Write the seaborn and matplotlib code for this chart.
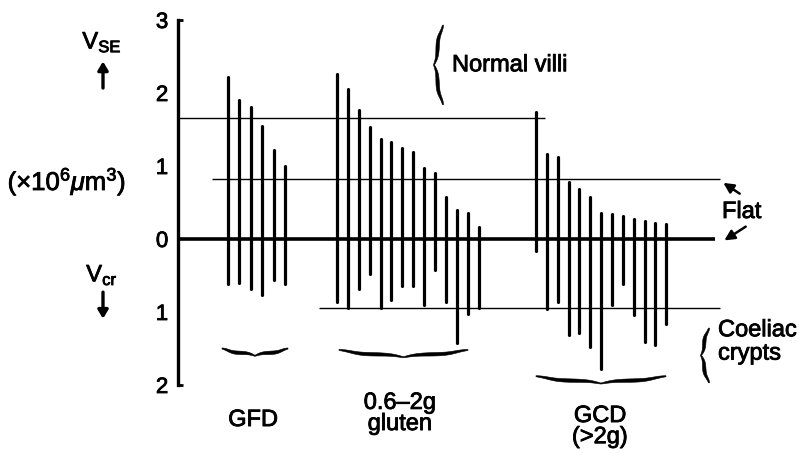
import numpy as np
import pandas as pd
import matplotlib
matplotlib.use('Agg')
import matplotlib.pyplot as plt
import matplotlib.patheffects as pe
import seaborn as sns

# surface epithelium volume (up) and crypt volume (down), x10^6 um^3, per biopsy
gfd_se = [2.22, 1.90, 1.81, 1.55, 1.22, 1.00]
gfd_cr = [0.62, 0.60, 0.68, 0.77, 0.56, 0.62]

gluten_se = [2.26, 2.06, 1.77, 1.54, 1.37, 1.33, 1.24, 1.19, 0.97, 0.91, 0.58, 0.40, 0.36, 0.16]
gluten_cr = [0.86, 0.94, 0.68, 0.48, 0.94, 0.83, 0.65, 0.65, 0.91, 0.43, 0.86, 1.42, 1.03, 0.94]

gcd_se = [1.74, 1.17, 1.13, 0.78, 0.69, 0.57, 0.36, 0.34, 0.32, 0.27, 0.25, 0.22, 0.21]
gcd_cr = [0.16, 0.96, 0.86, 1.32, 1.29, 1.48, 1.78, 0.90, 0.62, 1.04, 1.41, 1.45, 1.16]

group_labels = ['GFD', '0.6–2g\ngluten', 'GCD\n(>2g)']
tick_vals = [3, 2, 1, 0, -1, -2]
tick_labels = ['3', '2', '1', '0', '1', '2']

# reference levels
normal_mean = 1.66
flat_mean = 0.82
crypt_mean = -0.95

# layout: x in pixel-like units
x0_axis = 178
group_start = [227.7, 336.7, 536.0]
group_step = [11.46, 10.95, 10.86]

rows = []
pid = 0
for g, (se, cr) in enumerate([(gfd_se, gfd_cr), (gluten_se, gluten_cr), (gcd_se, gcd_cr)]):
    for i in range(len(se)):
        x = group_start[g] + i * group_step[g]
        rows.append({'x': x, 'v': se[i], 'pid': pid})
        rows.append({'x': x, 'v': -cr[i], 'pid': pid})
        pid += 1
df = pd.DataFrame(rows)

sns.set_style('white')
plt.rcParams['font.family'] = ['Liberation Sans', 'DejaVu Sans']
plt.rcParams['text.color'] = 'black'
plt.rcParams['ytick.color'] = 'black'
plt.rcParams['axes.edgecolor'] = 'black'
plt.rcParams['mathtext.fontset'] = 'custom'
plt.rcParams['mathtext.rm'] = 'Liberation Sans'
plt.rcParams['mathtext.it'] = 'Liberation Sans:italic'

fig = plt.figure(figsize=(8, 4.53), dpi=100)
ax = fig.add_axes([0, 0, 1, 1])
y0_px, scale = 239, 73.0
ax.set_xlim(0, 800)
ax.set_ylim((y0_px - 453) / scale, y0_px / scale)

sns.lineplot(data=df, x='x', y='v', units='pid', estimator=None, sort=False,
             color='black', lw=2.3, ax=ax, legend=False)
ax.set_xlabel('')
ax.set_ylabel('')

# horizontal reference lines
ax.hlines(0, x0_axis, 715, color='black', lw=2.6)
ax.hlines(normal_mean, x0_axis, 545, color='black', lw=1.0)
ax.hlines(flat_mean, 212, 720, color='black', lw=1.0)
ax.hlines(crypt_mean, 319, 720, color='black', lw=1.0)

# axis
for s in ['top', 'right', 'bottom']:
    ax.spines[s].set_visible(False)
ax.spines['left'].set_position(('data', x0_axis))
ax.spines['left'].set_bounds(-2, 3)
ax.spines['left'].set_linewidth(2.4)
ax.set_xticks([])
ax.set_yticks(tick_vals)
thick = [pe.withStroke(linewidth=0.6, foreground='black')]
ax.set_yticklabels(tick_labels, fontsize=16, path_effects=thick)
ax.tick_params(axis='y', direction='out', length=4, width=2, pad=3)
ticks = ax.yaxis.get_major_ticks()
ticks[0].tick1line.set_visible(False)
ticks[-1].tick1line.set_visible(False)
ax.hlines([3, -2], x0_axis - 1, x0_axis + 5, color='black', lw=2.0)


def brace(ax, a, b, pos, h, vertical=False, tmax=3.4, tmin=1.0):
    # tapered curly brace; thickness given in pixels
    n = 100
    t = np.linspace(0, 1, n)
    beta = 11.0
    half = 1 / (1 + np.exp(-beta * (t - 0.18))) + 1 / (1 + np.exp(-beta * (t - 0.97)))
    prof = np.concatenate([half, half[-2::-1]])
    prof = (prof - prof.min()) / (prof.max() - prof.min())
    u = np.concatenate([t, t[-2::-1]])
    th = tmin + (tmax - tmin) * np.sin(np.pi * u) ** 0.8
    s = np.linspace(a, b, len(prof))
    d = pos + prof * h
    if vertical:
        w = th / 2
        xs = np.concatenate([d - w, (d + w)[::-1]])
        ys = np.concatenate([s, s[::-1]])
    else:
        w = th / 2 / scale
        xs = np.concatenate([s, s[::-1]])
        ys = np.concatenate([d - w, (d + w)[::-1]])
    ax.fill(xs, ys, color='black', lw=0.4, ec='black')


# group braces under the bars
brace(ax, 222, 288, -1.50, -0.10)
brace(ax, 339, 468, -1.52, -0.10)
brace(ax, 536, 666, -1.88, -0.10)
# side braces
brace(ax, 2.93, 1.84, 443, -9, vertical=True)
brace(ax, -1.22, -1.97, 709, -8, vertical=True)

fs = 17
ax.text(452, 2.38, 'Normal villi', fontsize=fs, va='center', ha='left', path_effects=thick)
ax.text(722, 0.37, 'Flat', fontsize=fs, va='center', ha='left', path_effects=thick)
ax.text(718, -1.25, 'Coeliac', fontsize=fs, va='center', ha='left', path_effects=thick)
ax.text(718, -1.57, 'crypts', fontsize=fs, va='center', ha='left', path_effects=thick)

arrow = dict(arrowstyle='-|>,head_length=0.6,head_width=0.3', color='black', lw=1.8)
ax.annotate('', xy=(721, 0.79), xytext=(742, 0.60), arrowprops=arrow)
ax.annotate('', xy=(722, -0.04), xytext=(748, 0.19), arrowprops=arrow)

label_x = [253, 400, 600]
label_y = [-2.48, -2.39, -2.57]
for lx, ly, lab in zip(label_x, label_y, group_labels):
    ax.text(lx, ly, lab, fontsize=fs, ha='center', va='center', linespacing=0.95,
            path_effects=thick)

ax.text(102, 2.70, r'V$_{\mathrm{SE}}$', fontsize=fs, ha='center', va='center', path_effects=thick)
ax.text(102, -0.49, r'V$_{\mathrm{cr}}$', fontsize=fs, ha='center', va='center', path_effects=thick)
ax.text(67, 0.79, r'($\times$10$^{6}$$\mu$m$^{3}$)', fontsize=18.5, ha='center', va='center',
        path_effects=thick)
varrow = dict(arrowstyle='-|>,head_length=0.5,head_width=0.3', color='black', lw=2.4)
ax.annotate('', xy=(103, 2.47), xytext=(103, 2.03), arrowprops=varrow)
ax.annotate('', xy=(103, -1.13), xytext=(103, -0.69), arrowprops=varrow)

fig.savefig('out.png', dpi=100)
